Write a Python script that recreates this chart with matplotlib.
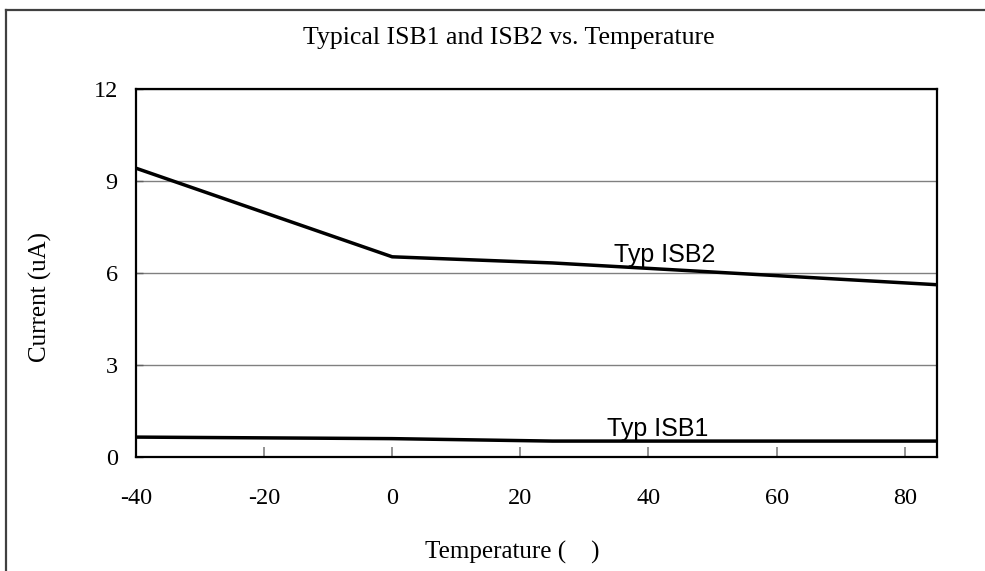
import matplotlib.pyplot as plt
from matplotlib.lines import Line2D

# values
temps = [-40, 0, 25, 85]
isb2 = [9.42, 6.53, 6.33, 5.62]
isb1 = [0.65, 0.60, 0.52, 0.52]
xticks = [-40, -20, 0, 20, 40, 60, 80]
yticks = [0, 3, 6, 9, 12]

SERIF = ['Liberation Serif', 'DejaVu Serif']
SANS = ['Liberation Sans', 'DejaVu Sans']


def do_plot():
    fig = plt.figure(figsize=(9.85, 5.71), dpi=100)
    ax = fig.add_axes([0.138, 0.1996, 0.813, 0.6444])

    ax.plot(temps, isb2, '-', color='black', lw=2.5, solid_joinstyle='miter')
    ax.plot(temps, isb1, '-', color='black', lw=2.5, solid_joinstyle='miter')

    ax.set_xlim(-40, 85)
    ax.set_ylim(0, 12)
    ax.set_xticks(xticks)
    ax.set_yticks(yticks)
    ax.set_xticklabels([str(t) for t in xticks], family=SERIF, fontsize=17.5)
    ax.set_yticklabels([str(t) for t in yticks], family=SERIF, fontsize=17.5)
    ax.tick_params(axis='x', direction='in', length=7, width=1.2, color='#808080', pad=22)
    ax.tick_params(axis='y', direction='in', length=5, width=1, color='#606060', pad=13)

    ax.yaxis.grid(True, color='#808080', lw=1)
    ax.set_axisbelow(True)
    for s in ax.spines.values():
        s.set_linewidth(1.6)
        s.set_color('black')

    ax.text(42.5, 6.36, 'Typ ISB2', family=SANS, fontsize=18, ha='center', va='baseline')
    ax.text(41.5, 0.68, 'Typ ISB1', family=SANS, fontsize=18, ha='center', va='baseline')

    fig.text(0.517, 0.933, 'Typical ISB1 and ISB2 vs. Temperature', family=SERIF,
             fontsize=18.5, ha='center', va='center')
    fig.text(0.52, 0.033, 'Temperature (    )', family=SERIF, fontsize=18,
             ha='center', va='center')
    fig.text(0.041, 0.48, 'Current (uA)', family=SERIF, fontsize=18,
             rotation=90, ha='center', va='center')

    # outer chart frame (only left and top edges fall inside the picture)
    fig.add_artist(Line2D([0.006, 0.006], [0, 0.982], transform=fig.transFigure,
                          color='#404040', lw=1.6))
    fig.add_artist(Line2D([0.006, 1.0], [0.982, 0.982], transform=fig.transFigure,
                          color='#404040', lw=1.6))

    fig.savefig('out.png', dpi=100)


if __name__ == '__main__':
    do_plot()
